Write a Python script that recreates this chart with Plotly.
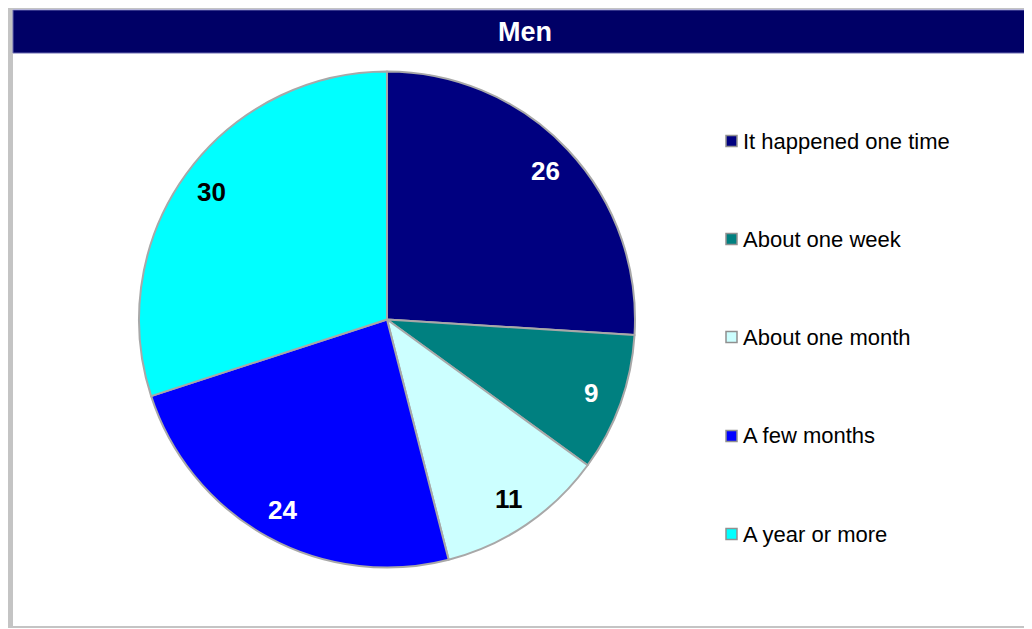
import math
import plotly.graph_objects as go

title = "Men"
categories = ["It happened one time", "About one week", "About one month", "A few months", "A year or more"]
values = [26, 9, 11, 24, 30]
colors = ["#000080", "#008080", "#CCFFFF", "#0000FF", "#00FFFF"]
label_colors = ["white", "white", "black", "white", "black"]

# page is rendered with an 8px body margin; compensate
OFF = 8
W, H = 1032 - OFF, 629 - OFF

def px(x):
    return (x - OFF) / W

def py(y):
    return 1 - (y - OFF) / H

CX, CY, R = 387, 319.5, 248
FONT = "Liberation Sans, Arial"

fig = go.Figure()
fig.add_trace(go.Pie(
    values=values,
    labels=categories,
    sort=False,
    direction="clockwise",
    rotation=0,
    marker=dict(colors=colors, line=dict(color="#a8a8a8", width=2)),
    textinfo="none",
    domain=dict(x=[px(CX - R), px(CX + R)], y=[py(CY + R), py(CY - R)]),
    showlegend=False,
    hoverinfo="label+value",
))

shapes = []
# outer gray frame
shapes.append(dict(type="rect", xref="paper", yref="paper", x0=px(6), x1=px(1045), y0=py(628), y1=py(2),
                   line=dict(width=0), fillcolor="#c4c4c4", layer="below"))
shapes.append(dict(type="rect", xref="paper", yref="paper", x0=px(13), x1=px(1045), y0=py(626), y1=py(9),
                   line=dict(width=0), fillcolor="white", layer="below"))
# title bar
shapes.append(dict(type="rect", xref="paper", yref="paper", x0=px(13), x1=px(1045), y0=py(53), y1=py(10),
                   line=dict(width=1, color="#6a6ab0"), fillcolor="#000066", layer="below"))

annotations = [dict(text="<b>" + title + "</b>", x=px(525), y=py(32), xref="paper", yref="paper",
                    showarrow=False, xanchor="center", yanchor="middle",
                    font=dict(family=FONT, size=27, color="white"))]

# data labels placed along each slice's mid-angle
total = sum(values)
cum = 0
for v, lc in zip(values, label_colors):
    mid = (cum + v / 2) / total * 2 * math.pi
    cum += v
    rr = 0.875 * R
    lx = CX + rr * math.sin(mid)
    ly = CY - rr * math.cos(mid)
    annotations.append(dict(text="<b>%d</b>" % v, x=px(lx), y=py(ly), xref="paper", yref="paper",
                            showarrow=False, xanchor="center", yanchor="middle",
                            font=dict(family=FONT, size=26, color=lc)))

legend_y = [141, 239, 337, 436, 534]
for cat, col, yy in zip(categories, colors, legend_y):
    shapes.append(dict(type="rect", xref="paper", yref="paper", x0=px(726), x1=px(737), y0=py(yy + 5.5), y1=py(yy - 5.5),
                       line=dict(width=1.5, color="#909090"), fillcolor=col))
    annotations.append(dict(text=cat, x=px(741), y=py(yy), xref="paper", yref="paper", showarrow=False,
                            xanchor="left", yanchor="middle",
                            font=dict(family=FONT, size=22, color="black")))

fig.update_layout(
    width=W, height=H,
    margin=dict(l=0, r=0, t=0, b=0),
    paper_bgcolor="white",
    plot_bgcolor="white",
    shapes=shapes,
    annotations=annotations,
)

fig.write_html("out.html")
